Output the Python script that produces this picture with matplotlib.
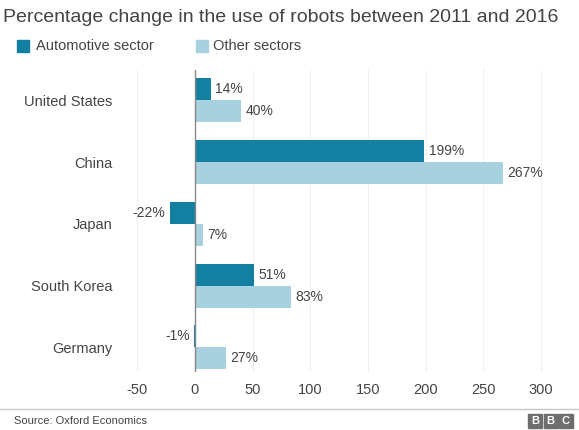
import matplotlib
matplotlib.use("Agg")
import matplotlib.pyplot as plt
from matplotlib.patches import Rectangle
from matplotlib.lines import Line2D

plt.rcParams['font.family'] = ['Liberation Sans', 'DejaVu Sans']

countries = ["United States", "China", "Japan", "South Korea", "Germany"]
automotive = [14, 199, -22, 51, -1]
other = [40, 267, 7, 83, 27]
xticks = [-50, 0, 50, 100, 150, 200, 250, 300]

title = "Percentage change in the use of robots between 2011 and 2016"
series_names = ["Automotive sector", "Other sectors"]
source = "Source: Oxford Economics"

dark = "#1380A1"
light = "#A8D1DF"
text_col = "#444444"

W, H = 579, 430
fig = plt.figure(figsize=(W / 100, H / 100), dpi=100)

ax = fig.add_axes([123.5 / W, 1 - 372 / H, 431.3 / W, 302 / H])
ax.set_xlim(-62, 312)
ax.set_ylim(4.4, -0.49)

ypos = list(range(len(countries)))
bh = 0.356
ax.barh([y - bh / 2 for y in ypos], automotive, height=bh, color=dark, zorder=3)
ax.barh([y + bh / 2 for y in ypos], other, height=bh, color=light, zorder=3)

for y, v in zip(ypos, automotive):
    ha = "left" if v >= 0 else "right"
    off = 3 if v >= 0 else -3
    ax.annotate(f"{v}%", (v, y - bh / 2), xytext=(off, 0), textcoords="offset points",
                ha=ha, va="center", fontsize=10, color=text_col, zorder=4)
for y, v in zip(ypos, other):
    ha = "left" if v >= 0 else "right"
    off = 3 if v >= 0 else -3
    ax.annotate(f"{v}%", (v, y + bh / 2), xytext=(off, 0), textcoords="offset points",
                ha=ha, va="center", fontsize=10, color=text_col, zorder=4)

for s in ax.spines.values():
    s.set_visible(False)
ax.set_xticks(xticks)
ax.set_xticklabels([str(t) for t in xticks], fontsize=10.5, color=text_col)
ax.tick_params(axis="x", length=0, pad=8)
ax.set_yticks(ypos)
ax.set_yticklabels(countries, fontsize=10.5, color=text_col)
ax.tick_params(axis="y", length=0, pad=8)
for t in xticks:
    if t != 0:
        ax.axvline(t, color="#f0f0f0", lw=0.8, zorder=1)
ax.axvline(0, color="#888888", lw=1.0, zorder=4)

# title and legend
fig.text(3 / W, 1 - 18 / H, title, fontsize=14, color=text_col, va="center", ha="left")
fig.patches.append(Rectangle((17 / W, 1 - 52 / H), 12 / W, 12 / H, transform=fig.transFigure,
                             color=dark, figure=fig))
fig.text(36 / W, 1 - 46 / H, series_names[0], fontsize=10.5, color=text_col, va="center")
fig.patches.append(Rectangle((196 / W, 1 - 52 / H), 12 / W, 12 / H, transform=fig.transFigure,
                             color=light, figure=fig))
fig.text(213 / W, 1 - 46 / H, series_names[1], fontsize=10.5, color=text_col, va="center")

# footer
fig.lines.append(Line2D([0, 1], [1 - 409 / H] * 2, transform=fig.transFigure,
                        color="#c8c8c8", lw=1.0, figure=fig))
fig.text(14 / W, 1 - 421 / H, source, fontsize=8, color=text_col, va="center")
for i, ch in enumerate("BBC"):
    x0 = 528 + i * 15.5
    fig.patches.append(Rectangle((x0 / W, 1 - 428 / H), 14 / W, 14 / H,
                                 transform=fig.transFigure, color="#6e6e6e", figure=fig))
    fig.text((x0 + 7) / W, 1 - 421 / H, ch, fontsize=8, color="white", ha="center",
             va="center", fontweight="bold")

fig.savefig("out.png", dpi=100)
